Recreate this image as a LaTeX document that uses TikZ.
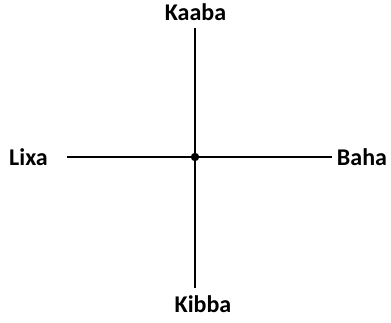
\documentclass[tikz,border=0pt]{standalone}
\usepackage{fontspec}
\setmainfont{Carlito}
\usetikzlibrary{positioning}

\begin{document}
\begin{tikzpicture}[
  x=1pt, y=-1pt,
  place/.style={font=\bfseries\fontsize{24}{24}\selectfont, inner sep=0pt, text=black},
  axis/.style={line width=2.7pt, black}
]
  \useasboundingbox (0,0) rectangle (391,323);

  \coordinate (centre) at (195,157);
  \node[place] (kaaba) at (195.5,12) {Kaaba};
  \node[place] (kibba) at (203,304) {Kibba};
  \node[place] (lixa) at (28.5,157) {Lixa};
  \node[place] (baha) at (362,157) {Baha};

  \coordinate (top) at (195,28);
  \coordinate (bottom) at (195,288);
  \coordinate (left) at (67,157);
  \coordinate (right) at (332,157);

  \draw[axis] (top) -- (bottom);
  \draw[axis] (left) -- (right);
  \fill (centre) circle (4.2pt);
\end{tikzpicture}
\end{document}
